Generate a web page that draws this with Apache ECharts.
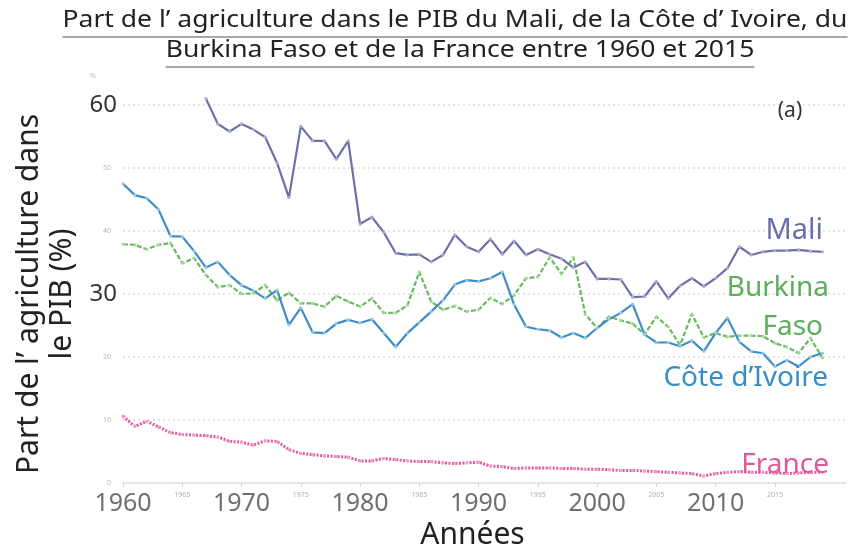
<!DOCTYPE html>
<html>
<head>
<meta charset="utf-8">
<script src="https://cdn.jsdelivr.net/npm/echarts@6/dist/echarts.min.js"></script>
<style>html,body{margin:0;padding:0;background:#fff;}#c{width:859px;height:551px;}</style>
</head>
<body>
<div id="c"></div>
<script>
var years = [];
for (var y = 1960; y <= 2019; y++) years.push(y);

var mali = [null,null,null,null,null,null,null,
  61.0,57.0,55.8,
  57.0,56.1,54.9,50.8,45.3,56.6,54.3,54.3,51.4,54.3,
  41.1,42.2,39.8,36.5,36.2,36.3,35.1,36.2,39.4,37.5,
  36.7,38.7,36.3,38.4,36.2,37.1,36.3,35.6,34.2,35.1,
  32.4,32.4,32.3,29.5,29.6,32.0,29.3,31.3,32.5,31.2,
  32.5,34.1,37.5,36.2,36.7,36.9,36.9,37.0,36.8,36.7];

var coteIvoire = [47.5,45.7,45.2,43.4,39.2,39.1,36.8,34.2,35.1,33.0,
  31.4,30.5,29.3,30.6,25.1,27.8,23.9,23.8,25.3,25.9,
  25.4,26.0,23.8,21.6,23.8,25.5,27.2,29.0,31.5,32.2,
  32.0,32.5,33.5,28.3,24.8,24.4,24.2,23.1,23.8,23.0,
  24.6,26.0,27.0,28.4,23.6,22.3,22.3,21.7,22.6,20.9,
  23.8,26.2,22.4,20.9,20.6,18.5,19.5,18.5,20.0,20.6];

var burkina = [37.9,37.8,37.1,37.8,38.1,34.9,35.7,33.0,31.1,31.4,
  30.0,30.1,31.4,29.0,30.2,28.5,28.5,28.0,29.7,28.8,
  28.0,29.3,27.0,27.0,28.2,33.5,28.8,27.5,28.1,27.2,
  27.5,29.4,28.4,29.8,32.5,32.7,35.8,33.2,35.8,26.8,
  24.6,26.4,25.8,25.3,23.6,26.4,24.8,21.9,26.8,23.1,
  23.8,23.2,23.4,23.4,23.3,22.2,21.6,20.6,23.0,19.9];

var france = [10.6,9.0,9.8,8.9,8.0,7.7,7.6,7.5,7.3,6.6,
  6.5,6.0,6.7,6.6,5.3,4.7,4.5,4.3,4.2,4.1,
  3.5,3.5,3.9,3.7,3.5,3.4,3.4,3.2,3.1,3.2,
  3.3,2.7,2.6,2.3,2.4,2.4,2.4,2.3,2.3,2.2,
  2.2,2.1,2.0,2.0,1.9,1.8,1.7,1.6,1.5,1.1,
  1.5,1.7,1.8,1.7,1.7,1.6,1.5,1.6,1.7,1.7];

var xTicks = [1960,1965,1970,1975,1980,1985,1990,1995,2000,2005,2010,2015];
var yBigLabels = [60, 30];

var titleLine1 = 'Part de l’ agriculture dans le PIB du Mali, de la Côte d’ Ivoire, du';
var titleLine2 = 'Burkina Faso et de la France entre 1960 et 2015';
var yName = 'Part de l’ agriculture dans\nle PIB (%)';
var xName = 'Années';

function pairs(arr) {
  var out = [];
  for (var i = 0; i < years.length; i++) {
    if (arr[i] !== null) out.push([years[i], arr[i]]);
  }
  return out;
}

var FF = 'Noto Sans';
function measure(txt, size) {
  var c = document.createElement('canvas').getContext('2d');
  c.font = size + 'px "' + FF + '"';
  return c.measureText(txt).width;
}
var tSize = 23;
var w1 = measure(titleLine1, tSize), w2 = measure(titleLine2, tSize);
var tScale = 785 / w1;
var t1x = 455, t2x = 460;

var chart = echarts.init(document.getElementById('c'));

function lbl(text, x, y, color, size, align, sx) {
  return {type: 'text', x: x, y: y, z: 100, scaleX: sx || 1,
    style: {text: text, fill: color, fontSize: size, fontFamily: FF,
      align: align || 'center', verticalAlign: 'middle',
      textAlign: align || 'center', textVerticalAlign: 'middle'}};
}

function mkSeries(name, arr, color, dotColor, type, width) {
  return {
    name: name, type: 'line', data: pairs(arr), clip: false,
    showSymbol: true, symbol: 'circle', symbolSize: 3.2,
    itemStyle: {color: dotColor},
    lineStyle: {color: color, width: width, type: type},
    emphasis: {disabled: true}, animation: false, z: 3
  };
}

chart.setOption({
  backgroundColor: '#fff',
  animation: false,
  grid: {left: 123, right: 13, top: 105, bottom: 68, containLabel: false, outerBoundsMode: 'none'},
  xAxis: {
    type: 'value', min: 1960, max: 2021, interval: 5,
    name: xName, nameLocation: 'middle', nameGap: 34,
    nameTextStyle: {fontSize: 30, color: '#222', fontFamily: FF, padding: [0, 24, 0, 0]},
    axisLine: {show: true, lineStyle: {color: '#e2e2e2', width: 1.5}},
    axisTick: {show: true, customValues: xTicks, length: 4, lineStyle: {color: '#d5d5d5'}},
    splitLine: {show: false},
    axisLabel: {
      customValues: xTicks, margin: 8, fontFamily: FF,
      formatter: function (v) { return v % 10 === 0 ? '{b|' + v + '}' : '{s|' + v + '}'; },
      rich: {
        b: {fontSize: 25, color: '#707070', fontFamily: FF},
        s: {fontSize: 7, color: '#b0b0b0', fontFamily: FF}
      }
    }
  },
  yAxis: {
    type: 'value', min: 0, max: 60, interval: 10,
    name: yName, nameLocation: 'middle', nameRotate: 90, nameGap: 44,
    nameTextStyle: {fontSize: 30, color: '#222', fontFamily: FF, lineHeight: 33},
    axisLine: {show: false}, axisTick: {show: false},
    splitLine: {show: true, lineStyle: {color: '#dcdcdc', type: [2, 3], width: 1.5}},
    axisLabel: {
      margin: 6, fontFamily: FF,
      formatter: function (v) { return yBigLabels.indexOf(v) >= 0 ? '{b|' + v + '}' : '{s|' + v + '}'; },
      rich: {
        b: {fontSize: 24, color: '#333', fontFamily: FF},
        s: {fontSize: 7, color: '#b5b5b5', fontFamily: FF, padding: [0, 6, 0, 0]}
      }
    }
  },
  graphic: [
    lbl(titleLine1, t1x, 20, '#222', tSize, 'center', tScale),
    lbl(titleLine2, t2x, 50, '#222', tSize, 'center', tScale),
    {type: 'line', shape: {x1: t1x - w1 * tScale / 2, y1: 37, x2: t1x + w1 * tScale / 2, y2: 37}, style: {stroke: '#8a8a8a', lineWidth: 1.5}},
    {type: 'line', shape: {x1: t2x - w2 * tScale / 2, y1: 67, x2: t2x + w2 * tScale / 2, y2: 67}, style: {stroke: '#8a8a8a', lineWidth: 1.5}},
    lbl('%', 93, 76, '#b5b5b5', 7),
    lbl('(a)', 790, 111, '#333', 21),
    lbl('Mali', 823, 231, '#6b70a8', 29, 'right'),
    lbl('Burkina', 829, 288, '#5aae5c', 28, 'right'),
    lbl('Faso', 823, 327, '#5aae5c', 28, 'right'),
    lbl('Côte d’Ivoire', 828, 378, '#3a8dc6', 28, 'right'),
    lbl('France', 829, 465, '#e2579c', 28, 'right')
  ],
  series: [
    mkSeries('France', france, '#e2579c', '#f0a0c8', [2, 1.5], 3),
    mkSeries('Burkina Faso', burkina, '#6ab85f', '#a8d8a0', [5, 2], 2.2),
    mkSeries("Côte d'Ivoire", coteIvoire, '#3d8ec8', '#9cc8e6', 'solid', 2.2),
    mkSeries('Mali', mali, '#6b70a8', '#a9acd0', 'solid', 2.2)
  ]
});
</script>
</body>
</html>
